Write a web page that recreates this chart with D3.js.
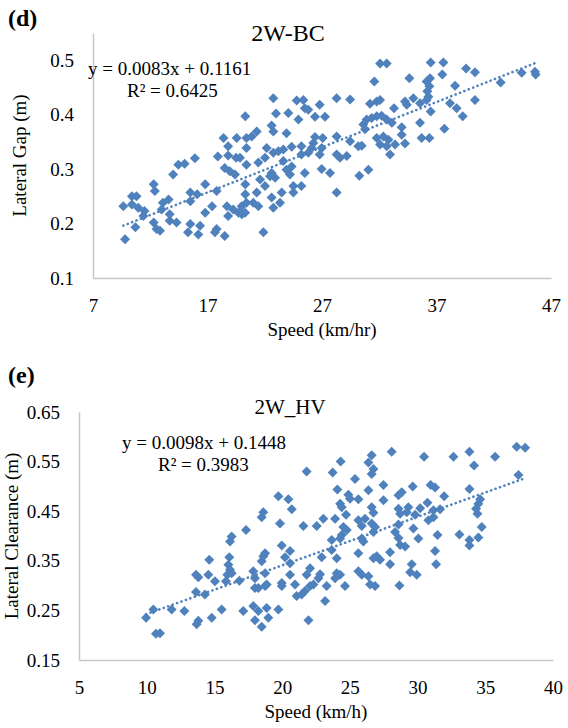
<!DOCTYPE html>
<html>
<head>
<meta charset="utf-8">
<script src="https://d3js.org/d3.v7.min.js"></script>
<style>
body { margin: 0; background: #fff; }
text { font-family: "Liberation Serif", "Times New Roman", serif; fill: #000; }
</style>
</head>
<body>
<script>
// 2W-BC : [speed km/hr, lateral gap m]
var bcPoints = [
 [20.3,0.397],[18.4,0.357],[19.55,0.357],[20.4,0.357],[18.8,0.342],[20.4,0.339],
 [17.9,0.323],[18.8,0.325],[19.5,0.321],[15.9,0.32],[14.45,0.308],[15.0,0.31],
 [14.0,0.29],[18.5,0.302],[18.95,0.296],[19.4,0.29],[20.3,0.272],[12.3,0.272],
 [12.4,0.26],[16.8,0.272],[15.5,0.257],[16.1,0.254],[17.8,0.26],[20.3,0.254],
 [10.4,0.25],[10.8,0.25],[9.65,0.232],[10.4,0.235],[10.95,0.229],[11.5,0.223],
 [11.4,0.214],[13.1,0.238],[13.6,0.244],[13.0,0.226],[13.7,0.217],[13.7,0.205],
 [15.5,0.241],[17.4,0.232],[16.8,0.22],[18.7,0.232],[19.25,0.226],[19.7,0.22],
 [18.8,0.214],[20.0,0.217],[20.4,0.238],[12.3,0.202],[12.55,0.19],[12.85,0.187],
 [14.3,0.202],[10.7,0.193],[15.5,0.199],[16.35,0.196],[15.3,0.184],[16.2,0.18],
 [17.8,0.19],[18.5,0.177],[17.65,0.184],[9.8,0.171],
 [32.07,0.494],[32.65,0.494],[31.57,0.461],[22.75,0.43],[24.79,0.426],[25.37,0.427],
 [25.5,0.412],[25.8,0.409],[26.8,0.418],[28.28,0.43],[29.45,0.428],[31.19,0.42],
 [31.78,0.424],[32.07,0.427],[33.29,0.412],[22.98,0.402],[24.06,0.403],[24.94,0.391],
 [26.39,0.396],[27.26,0.396],[30.9,0.391],[31.34,0.394],[31.78,0.397],[32.21,0.398],
 [32.65,0.391],[30.61,0.382],[30.76,0.373],[33.1,0.385],[22.6,0.38],[22.75,0.369],
 [23.9,0.366],[21.3,0.369],[20.86,0.36],[22.17,0.339],[22.75,0.33],[23.19,0.333],
 [23.62,0.336],[24.35,0.341],[25.2,0.342],[26.39,0.359],[27.06,0.357],[26.24,0.348],
 [26.1,0.339],[26.97,0.339],[28.28,0.36],[29.45,0.351],[30.17,0.342],[30.47,0.343],
 [31.78,0.357],[32.36,0.36],[32.8,0.354],[32.07,0.345],[32.65,0.342],[32.94,0.327],
 [25.2,0.327],[25.8,0.33],[26.8,0.327],[28.28,0.327],[28.57,0.321],[29.16,0.324],
 [19.84,0.321],[21.44,0.312],[22.02,0.321],[20.4,0.308],[23.62,0.315],[24.35,0.305],
 [22.6,0.293],[22.46,0.287],[22.9,0.284],[23.9,0.299],[24.2,0.29],[25.5,0.293],
 [26.97,0.3],[27.7,0.293],[30.26,0.288],[31.05,0.299],[21.59,0.281],[22.02,0.269],
 [21.3,0.257],[24.5,0.269],[25.2,0.269],[24.5,0.257],[28.28,0.257],[19.98,0.232],
 [21.0,0.238],[21.44,0.232],[22.6,0.248],[22.75,0.229],[23.33,0.238],[23.48,0.257],
 [20.28,0.22],[21.88,0.184],
 [36.49,0.496],[37.6,0.496],[39.58,0.485],[40.36,0.478],[37.51,0.474],[34.63,0.467],
 [44.44,0.477],[45.6,0.479],[45.66,0.474],[42.6,0.459],[38.62,0.453],[36.14,0.461],
 [36.43,0.467],[36.38,0.452],[36.2,0.443],[36.29,0.433],[36.14,0.427],[40.36,0.427],
 [34.25,0.424],[34.98,0.43],[35.56,0.421],[34.4,0.418],[38.18,0.421],[38.76,0.412],
 [36.49,0.406],[39.29,0.397],[35.56,0.385],[33.96,0.377],[33.96,0.363],[37.69,0.374],
 [35.7,0.357],[36.38,0.357],[33.38,0.345],[34.25,0.347]
];

// 2W_HV : [speed km/h, lateral clearance m]
var hvPoints = [
 [17.33,0.412],[16.27,0.399],[16.15,0.389],[14.62,0.352],[16.1,0.357],[16.03,0.342],
 [16.15,0.332],[15.95,0.322],[16.27,0.325],[13.64,0.322],[13.81,0.317],[14.55,0.322],
 [15.04,0.309],[15.85,0.309],[16.84,0.31],[13.64,0.287],[14.3,0.282],[10.49,0.252],
 [9.95,0.235],[11.84,0.252],[12.78,0.249],[15.53,0.252],[17.13,0.249],[14.8,0.235],
 [13.81,0.229],[13.69,0.222],[10.68,0.203],[10.98,0.204],
 [26.61,0.563],[26.37,0.548],[26.74,0.535],[26.61,0.525],[28.09,0.57],[24.32,0.55],
 [21.81,0.53],[23.73,0.528],[25.38,0.515],[27.48,0.503],[24.08,0.494],[26.37,0.492],
 [24.89,0.483],[25.01,0.475],[25.63,0.474],[27.48,0.472],[19.72,0.48],[20.46,0.474],
 [20.71,0.454],[24.28,0.465],[24.4,0.458],[26.61,0.458],[26.74,0.447],[18.61,0.448],
 [18.49,0.438],[24.72,0.443],[23.04,0.435],[23.91,0.435],[25.63,0.432],[26.12,0.435],
 [25.88,0.42],[26.61,0.425],[26.86,0.418],[26.74,0.408],[19.84,0.425],[21.57,0.42],
 [22.55,0.42],[24.52,0.418],[24.77,0.412],[24.4,0.402],[24.28,0.395],[25.88,0.395],
 [26.0,0.389],[23.66,0.392],[23.66,0.372],[19.97,0.381],[20.58,0.37],[18.74,0.365],
 [18.61,0.359],[18.49,0.349],[20.21,0.357],[20.58,0.345],[22.92,0.357],[24.03,0.355],
 [25.63,0.365],[26.74,0.355],[26.98,0.359],[27.23,0.352],[27.97,0.367],[17.87,0.329],
 [17.99,0.315],[18.74,0.325],[18.86,0.302],[20.58,0.322],[19.97,0.305],[19.97,0.299],
 [20.95,0.302],[22.06,0.335],[21.81,0.322],[22.8,0.323],[22.68,0.315],[22.31,0.302],
 [22.06,0.299],[21.69,0.289],[21.07,0.279],[21.44,0.282],[23.29,0.299],[24.03,0.325],
 [24.28,0.322],[23.91,0.315],[24.64,0.299],[25.63,0.329],[25.88,0.322],[26.37,0.319],
 [26.49,0.302],[26.86,0.299],[17.99,0.295],[18.24,0.295],[18.74,0.299],[23.17,0.269],
 [17.87,0.259],[18.24,0.249],[18.86,0.255],[18.98,0.235],[19.72,0.252],[17.99,0.23],
 [18.49,0.217],[21.94,0.23],
 [30.48,0.56],[32.65,0.56],[33.83,0.57],[35.72,0.56],[37.32,0.58],[37.94,0.578],
 [34.17,0.542],[37.45,0.523],[29.64,0.5],[30.97,0.503],[31.29,0.498],[33.83,0.495],
 [28.83,0.488],[28.59,0.482],[31.96,0.48],[30.73,0.467],[34.62,0.474],[34.49,0.465],
 [34.32,0.455],[34.42,0.445],[28.59,0.455],[28.71,0.445],[29.32,0.458],[29.2,0.448],
 [30.19,0.456],[29.82,0.443],[31.66,0.454],[31.17,0.452],[31.17,0.438],[30.8,0.432],
 [28.59,0.423],[28.34,0.408],[29.69,0.415],[34.74,0.418],[28.59,0.396],[30.06,0.395],
 [31.47,0.402],[33.09,0.403],[33.83,0.392],[33.83,0.381],[34.49,0.397],[28.71,0.382],
 [29.08,0.379],[31.29,0.37],[27.97,0.343],[29.57,0.343],[31.37,0.343],[29.45,0.327],
 [29.94,0.322],[28.66,0.3]
];

var bcXTicks = [7, 17, 27, 37, 47];
var bcYTicks = [0.1, 0.2, 0.3, 0.4, 0.5];
var hvXTicks = [5, 10, 15, 20, 25, 30, 35, 40];
var hvYTicks = [0.15, 0.25, 0.35, 0.45, 0.55, 0.65];

var bcFit = [0.0083, 0.1161];   // slope, intercept
var hvFit = [0.0098, 0.1448];

var blue = "#4f81bd";

var svg = d3.select("body")
    .append("svg")
    .attr("width", 568)
    .attr("height", 728);

function drawPanel(c) {
    var x = d3.scaleLinear().domain(c.xDomain).range([c.left, c.right]);
    var y = d3.scaleLinear().domain(c.yDomain).range([c.bottom, c.top]);
    var g = svg.append("g");

    // axes
    var ax = g.append("g")
        .attr("transform", "translate(0," + c.bottom + ")")
        .call(d3.axisBottom(x).tickValues(c.xTicks).tickSize(0).tickPadding(21));
    var ay = g.append("g")
        .attr("transform", "translate(" + c.left + ",0)")
        .call(d3.axisLeft(y).tickValues(c.yTicks).tickSize(0).tickPadding(19)
            .tickFormat(d3.format(c.yFormat)));
    [ax, ay].forEach(function(a) {
        a.select(".domain").attr("stroke", "#c6c6c6").attr("stroke-width", 1.5);
        a.selectAll("text").style("font-size", "19px")
            .style("font-family", "'Liberation Serif', serif");
    });

    // trend line
    var ext = d3.extent(c.points, function(d) { return d[0]; });
    g.append("line")
        .attr("x1", x(ext[0])).attr("y1", y(c.fit[0] * ext[0] + c.fit[1]))
        .attr("x2", x(ext[1])).attr("y2", y(c.fit[0] * ext[1] + c.fit[1]))
        .attr("stroke", blue)
        .attr("stroke-width", 2.6)
        .attr("stroke-linecap", "round")
        .attr("stroke-dasharray", "0.1 4.6");

    // points
    var sym = d3.symbol().type(d3.symbolSquare).size(50);
    g.selectAll("path.pt")
        .data(c.points)
        .enter().append("path")
        .attr("class", "pt")
        .attr("d", sym)
        .attr("fill", blue)
        .attr("transform", function(d) {
            return "translate(" + x(d[0]) + "," + y(d[1]) + ") rotate(45)";
        });

    // texts
    g.append("text").attr("x", 8).attr("y", c.tagY)
        .style("font-size", "24px").style("font-weight", "bold").text(c.tag);
    g.append("text").attr("x", c.titleX).attr("y", c.titleY)
        .attr("text-anchor", "middle").style("font-size", c.titleSize).text(c.title);
    g.append("text").attr("x", c.eqX).attr("y", c.eqY)
        .style("font-size", "19px").text(c.eq);
    g.append("text").attr("x", c.r2X).attr("y", c.eqY + 22)
        .style("font-size", "19px").text(c.r2);
    g.append("text").attr("x", (c.left + c.right) / 2).attr("y", c.bottom + 58)
        .attr("text-anchor", "middle").style("font-size", "19px").text(c.xTitle);
    g.append("text")
        .attr("transform", "translate(" + c.yTitleX + "," + (c.top + c.bottom) / 2 + ") rotate(-90)")
        .attr("text-anchor", "middle").style("font-size", "19px").text(c.yTitle);
}

drawPanel({
    points: bcPoints, fit: bcFit,
    xDomain: [7, 47], yDomain: [0.1, 0.55],
    xTicks: bcXTicks, yTicks: bcYTicks, yFormat: ".1f",
    left: 93, right: 551, top: 33, bottom: 278,
    tag: "(d)", tagY: 26,
    title: "2W-BC", titleX: 288, titleY: 41, titleSize: "24px",
    eq: "y = 0.0083x + 0.1161", eqX: 88, eqY: 75,
    r2: "R² = 0.6425", r2X: 127,
    xTitle: "Speed (km/hr)", yTitle: "Lateral Gap (m)", yTitleX: 26
});

drawPanel({
    points: hvPoints, fit: hvFit,
    xDomain: [5, 40], yDomain: [0.15, 0.65],
    xTicks: hvXTicks, yTicks: hvYTicks, yFormat: ".2f",
    left: 79, right: 553, top: 412, bottom: 660,
    tag: "(e)", tagY: 383,
    title: "2W_HV", titleX: 290, titleY: 414, titleSize: "21px",
    eq: "y = 0.0098x + 0.1448", eqX: 122, eqY: 449,
    r2: "R² = 0.3983", r2X: 158,
    xTitle: "Speed (km/h)", yTitle: "Lateral Clearance (m)", yTitleX: 18
});
</script>
</body>
</html>
